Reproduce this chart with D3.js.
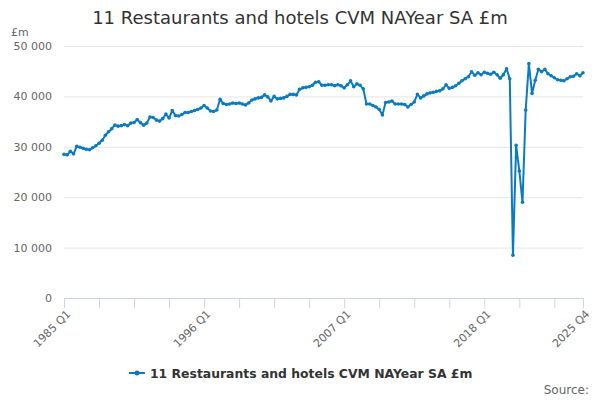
<!DOCTYPE html>
<html>
<head>
<meta charset="utf-8">
<script src="https://cdn.jsdelivr.net/npm/d3@7"></script>
<style>
  body { margin: 0; background: #fff; }
  text { font-family: "DejaVu Sans", sans-serif; }
</style>
</head>
<body>
<div class="canvas"></div>
<script>
// quarterly series, 1985 Q1 .. 2025 Q4
var startYear = 1985,
    endYear = 2025;
var values = [
  28500, 28400, 29100, 28600, 30100, 29900, 29700, 29500, 29400, 29800,
  30200, 30700, 31300, 32300, 33000, 33600, 34300, 34100, 34200, 34400,
  34200, 34700, 34800, 35400, 34800, 34300, 34700, 35900, 35800, 35300,
  35100, 35600, 36500, 35700, 37200, 36200, 36100, 36400, 36800, 36800,
  37000, 37200, 37400, 37700, 38200, 37700, 37100, 37000, 37300, 39400,
  38600, 38400, 38500, 38700, 38600, 38700, 38500, 38300, 38700, 39300,
  39500, 39700, 39800, 40300, 39900, 39100, 40000, 39500, 39600, 39700,
  40000, 40400, 40400, 40300, 41400, 41700, 41800, 41900, 42200, 42800,
  42900, 42200, 42200, 42300, 42300, 42100, 42300, 42100, 41700, 42300,
  43100, 41900, 42500, 42200, 41500, 38500, 38500, 38200, 37900, 37400,
  36300, 38800, 38900, 39100, 38500, 38500, 38500, 38400, 37900, 38400,
  38900, 40400, 39700, 40100, 40500, 40700, 40800, 41000, 41100, 41500,
  42300, 41600, 41800, 42100, 42600, 43100, 43500, 43900, 44900, 44200,
  44700, 44300, 44800, 44600, 44400, 44800, 44300, 43600, 44300, 45500,
  43500, 8500, 30300, 25200, 19000, 37300, 46500, 40600, 43200, 45400,
  44900, 45400, 44500, 44100, 43700, 43300, 43200, 43100, 43500, 43900,
  44000, 44500, 44100, 44700
];
var yTicks = [0, 10000, 20000, 30000, 40000, 50000];
var labelEvery = 44, tickEvery = 11;

var quarters = [];
for (var y = startYear; y <= endYear; y++) {
    for (var q = 1; q <= 4; q++) quarters.push(y + " Q" + q);
}
var data = quarters.map(function (d, i) { return {q: d, v: values[i]}; });

var width = 600, height = 400;
var svg = d3.select(".canvas").append("svg")
        .attr("width", width)
        .attr("height", height);

var x = d3.scalePoint().domain(quarters).range([64, 583]);
var yScale = d3.scaleLinear().domain([0, 50000]).range([298, 46]);

svg.append("text")
   .attr("x", 300).attr("y", 24)
   .attr("text-anchor", "middle")
   .style("font-size", "18px")
   .style("fill", "#333")
   .text("11 Restaurants and hotels CVM NAYear SA £m");

svg.append("text")
   .attr("x", 11).attr("y", 36)
   .style("font-size", "11px")
   .style("fill", "#666")
   .text("£m");

// y grid + labels
var fmt = function (d) { return d3.format(",")(d).replace(/,/g, " "); };
var yAxis = svg.append("g")
   .attr("transform", "translate(64,0)")
   .call(d3.axisLeft(yScale).tickValues(yTicks).tickSize(-519).tickFormat(fmt));
yAxis.select(".domain").remove();
yAxis.selectAll(".tick line").attr("stroke", "#e6e6e6");
yAxis.selectAll(".tick text")
     .attr("x", -12)
     .style("font-size", "11px")
     .style("fill", "#666")
     .style("font-family", "DejaVu Sans");

// x axis
var tickIdx = d3.range(0, quarters.length, tickEvery);
if (tickIdx[tickIdx.length - 1] !== quarters.length - 1) tickIdx.push(quarters.length - 1);
var xAxis = svg.append("g")
   .attr("transform", "translate(0,298)")
   .call(d3.axisBottom(x)
      .tickValues(tickIdx.map(function (i) { return quarters[i]; }))
      .tickSize(10)
      .tickSizeOuter(0)
      .tickFormat(function (d, i) {
          var k = quarters.indexOf(d);
          return (k % labelEvery === 0 || k === quarters.length - 1) ? d : "";
      }));
xAxis.select(".domain").attr("stroke", "#ccd6eb").attr("d", "M64,0.5H584");
xAxis.selectAll(".tick line").attr("stroke", "#ccd6eb");
xAxis.selectAll(".tick text")
     .style("font-size", "11px")
     .style("fill", "#666")
     .style("font-family", "DejaVu Sans")
     .attr("text-anchor", "end")
     .attr("dy", "0.35em")
     .attr("transform", "translate(4,14) rotate(-45)")
     .attr("y", 0);

// series
var color = "#0a7bc1";
var line = d3.line()
   .x(function (d) { return x(d.q); })
   .y(function (d) { return yScale(d.v); });
svg.append("path")
   .datum(data)
   .attr("fill", "none")
   .attr("stroke", color)
   .attr("stroke-width", 2)
   .attr("stroke-linejoin", "round")
   .attr("d", line);
svg.selectAll(".dot")
   .data(data).enter()
   .append("circle")
   .attr("class", "dot")
   .attr("cx", function (d) { return x(d.q); })
   .attr("cy", function (d) { return yScale(d.v); })
   .attr("r", 1.8)
   .style("fill", color);

// legend
var lg = svg.append("g").attr("transform", "translate(129,373)");
lg.append("line").attr("x1", 0).attr("x2", 16).attr("y1", 0).attr("y2", 0)
  .attr("stroke", color).attr("stroke-width", 2);
lg.append("circle").attr("cx", 8).attr("cy", 0).attr("r", 2.5).style("fill", color);
lg.append("text")
  .attr("x", 21).attr("y", 4.5)
  .style("font-size", "12.4px")
  .style("font-weight", "bold")
  .style("fill", "#333")
  .text("11 Restaurants and hotels CVM NAYear SA £m");

svg.append("text")
   .attr("x", 589).attr("y", 394)
   .attr("text-anchor", "end")
   .style("font-size", "12px")
   .style("fill", "#666")
   .text("Source:");
</script>
</body>
</html>
